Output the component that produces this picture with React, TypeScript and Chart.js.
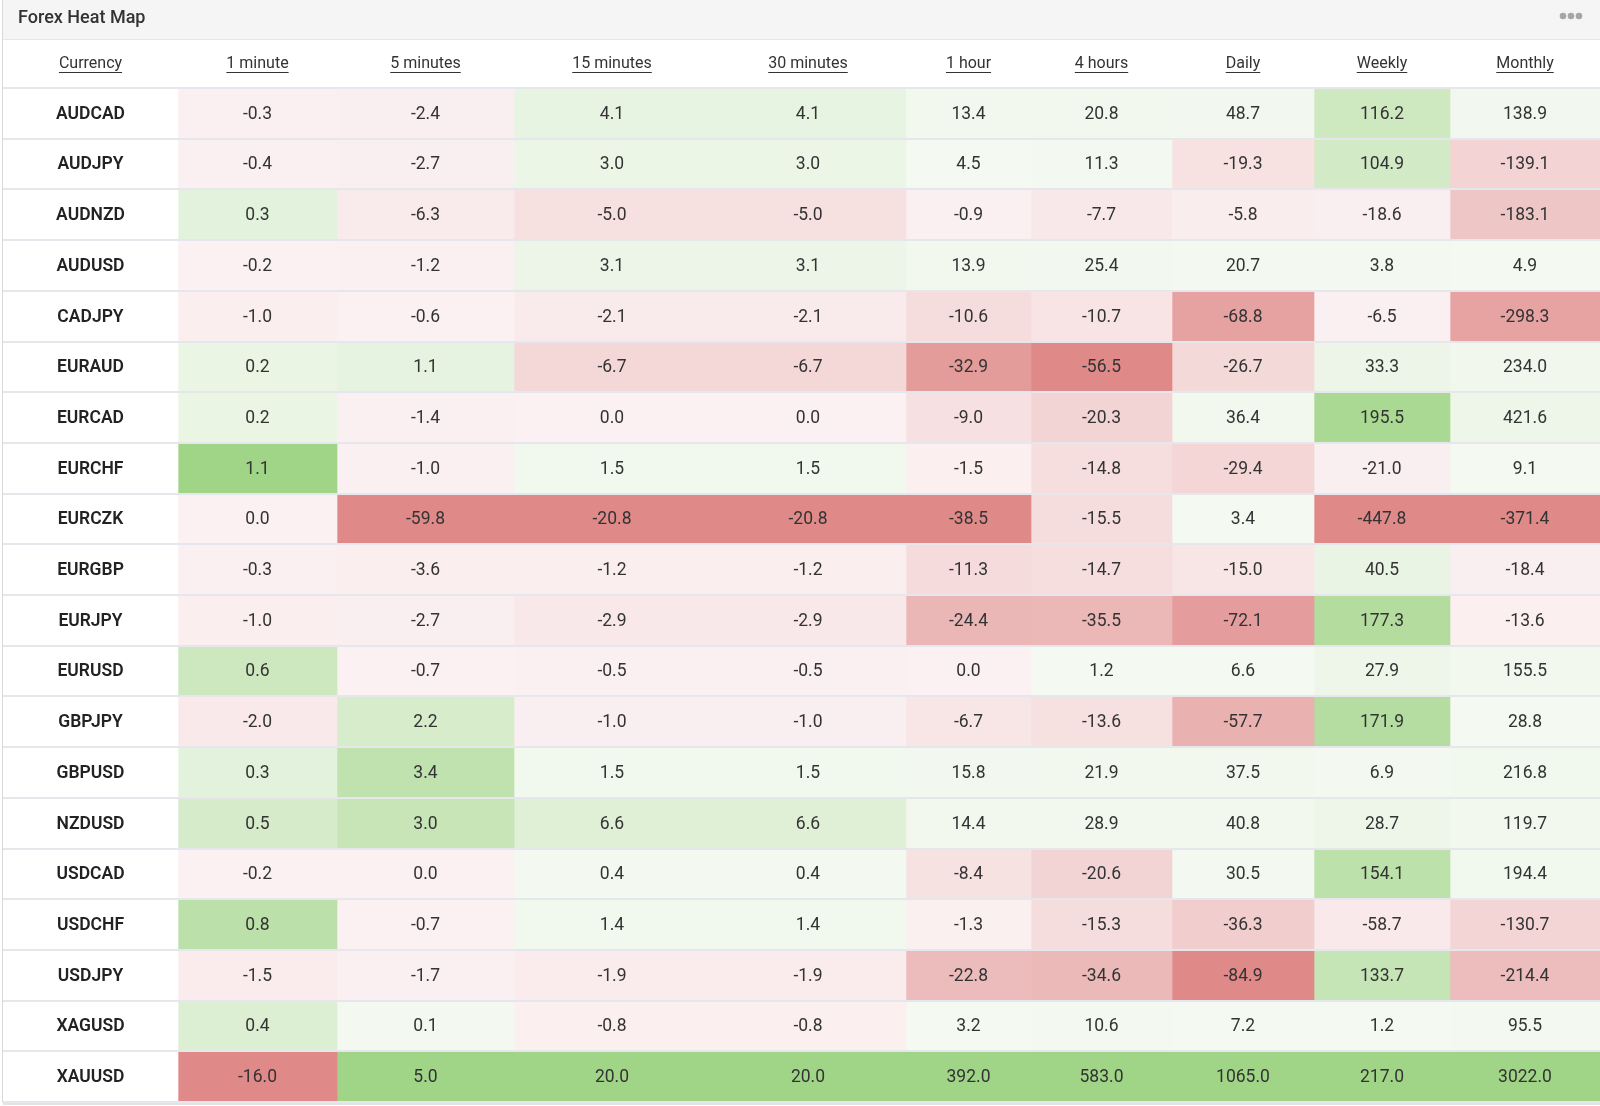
import React, { useEffect, useRef } from "react";
import { Chart, registerables } from "chart.js";

Chart.register(...registerables);

const TITLE = "Forex Heat Map";
const HEADERS = ["Currency", "1 minute", "5 minutes", "15 minutes", "30 minutes", "1 hour", "4 hours", "Daily", "Weekly", "Monthly"];
const CURRENCIES = ["AUDCAD", "AUDJPY", "AUDNZD", "AUDUSD", "CADJPY", "EURAUD", "EURCAD", "EURCHF", "EURCZK", "EURGBP", "EURJPY", "EURUSD", "GBPJPY", "GBPUSD", "NZDUSD", "USDCAD", "USDCHF", "USDJPY", "XAGUSD", "XAUUSD"];

const MIN1 = [-0.3, -0.4, 0.3, -0.2, -1.0, 0.2, 0.2, 1.1, 0.0, -0.3, -1.0, 0.6, -2.0, 0.3, 0.5, -0.2, 0.8, -1.5, 0.4, -16.0];
const MIN5 = [-2.4, -2.7, -6.3, -1.2, -0.6, 1.1, -1.4, -1.0, -59.8, -3.6, -2.7, -0.7, 2.2, 3.4, 3.0, 0.0, -0.7, -1.7, 0.1, 5.0];
const MIN15 = [4.1, 3.0, -5.0, 3.1, -2.1, -6.7, 0.0, 1.5, -20.8, -1.2, -2.9, -0.5, -1.0, 1.5, 6.6, 0.4, 1.4, -1.9, -0.8, 20.0];
const MIN30 = [4.1, 3.0, -5.0, 3.1, -2.1, -6.7, 0.0, 1.5, -20.8, -1.2, -2.9, -0.5, -1.0, 1.5, 6.6, 0.4, 1.4, -1.9, -0.8, 20.0];
const HOUR1 = [13.4, 4.5, -0.9, 13.9, -10.6, -32.9, -9.0, -1.5, -38.5, -11.3, -24.4, 0.0, -6.7, 15.8, 14.4, -8.4, -1.3, -22.8, 3.2, 392.0];
const HOUR4 = [20.8, 11.3, -7.7, 25.4, -10.7, -56.5, -20.3, -14.8, -15.5, -14.7, -35.5, 1.2, -13.6, 21.9, 28.9, -20.6, -15.3, -34.6, 10.6, 583.0];
const DAILY = [48.7, -19.3, -5.8, 20.7, -68.8, -26.7, 36.4, -29.4, 3.4, -15.0, -72.1, 6.6, -57.7, 37.5, 40.8, 30.5, -36.3, -84.9, 7.2, 1065.0];
const WEEKLY = [116.2, 104.9, -18.6, 3.8, -6.5, 33.3, 195.5, -21.0, -447.8, 40.5, 177.3, 27.9, 171.9, 6.9, 28.7, 154.1, -58.7, 133.7, 1.2, 217.0];
const MONTHLY = [138.9, -139.1, -183.1, 4.9, -298.3, 234.0, 421.6, 9.1, -371.4, -18.4, -13.6, 155.5, 28.8, 216.8, 119.7, 194.4, -130.7, -214.4, 95.5, 3022.0];

const SERIES = [MIN1, MIN5, MIN15, MIN30, HOUR1, HOUR4, DAILY, WEEKLY, MONTHLY];

// layout (column edges in pixels across the 1600px canvas)
const COLUMN_EDGES = [3, 178, 337, 514, 710, 906, 1031, 1172, 1314, 1450, 1600];

const PALE_GREEN = [244, 249, 241];
const DARK_GREEN = [160, 212, 134];
const PALE_RED = [251, 241, 242];
const DARK_RED = [223, 138, 136];
const COLOR_GAMMA = 1.25;
const FONT = "Roboto, 'Noto Sans', sans-serif";

function mix(a: number[], b: number[], t: number) {
  const k = Math.pow(Math.max(0, Math.min(1, t)), COLOR_GAMMA);
  const c = a.map((v, i) => Math.round(v + (b[i] - v) * k));
  return `rgb(${c[0]},${c[1]},${c[2]})`;
}

function cellColor(v: number, col: number[]) {
  const max = Math.max(...col);
  const min = Math.min(...col);
  if (v > 0) return mix(PALE_GREEN, DARK_GREEN, max > 0 ? v / max : 0);
  return mix(PALE_RED, DARK_RED, min < 0 ? v / min : 0);
}

const tablePlugin = {
  id: "heatTable",
  beforeDraw(chart: any) {
    const { ctx, width } = chart;
    ctx.save();
    ctx.fillStyle = "#ffffff";
    ctx.fillRect(0, 0, width, chart.height);
    ctx.fillStyle = "#f5f5f5";
    ctx.fillRect(3, 0, width - 3, 39);
    ctx.fillStyle = "#e8e8e8";
    ctx.fillRect(3, 39, width - 3, 1);
    ctx.fillStyle = "#333333";
    ctx.font = `500 18px ${FONT}`;
    ctx.textBaseline = "middle";
    ctx.textAlign = "left";
    ctx.fillText(TITLE, 18, 18);
    ctx.fillStyle = "#a6a6a6";
    [1563, 1571, 1579].forEach((x) => {
      ctx.beginPath();
      ctx.arc(x, 16, 3.3, 0, Math.PI * 2);
      ctx.fill();
    });
    ctx.restore();
  },
  afterDraw(chart: any) {
    const { ctx } = chart;
    const xScale = chart.scales.x;
    ctx.save();
    // headers
    ctx.font = `400 16px ${FONT}`;
    ctx.fillStyle = "#333333";
    ctx.textAlign = "center";
    ctx.textBaseline = "middle";
    HEADERS.forEach((h, i) => {
      const cx = xScale.getPixelForValue((COLUMN_EDGES[i] + COLUMN_EDGES[i + 1]) / 2);
      const y = 64;
      ctx.fillText(h, cx, y);
      const w = ctx.measureText(h).width;
      ctx.fillRect(cx - w / 2, y + 8, w, 1);
    });
    // cells
    chart.data.datasets.forEach((ds: any, di: number) => {
      const meta = chart.getDatasetMeta(di);
      meta.data.forEach((el: any, ri: number) => {
        const p = el.getCenterPoint();
        if (di === 0) {
          ctx.font = `600 17.5px ${FONT}`;
          ctx.fillStyle = "#222222";
          ctx.fillText(CURRENCIES[ri], p.x, p.y + 1);
        } else {
          ctx.font = `400 17.5px ${FONT}`;
          ctx.fillStyle = "#333333";
          ctx.fillText(SERIES[di - 1][ri].toFixed(1), p.x, p.y + 1);
        }
      });
    });
    // left border and bottom shadow
    ctx.fillStyle = "#ffffff";
    ctx.fillRect(0, 0, 2, chart.height);
    ctx.fillStyle = "#d9d9d9";
    ctx.fillRect(2, 0, 1, chart.chartArea.bottom);
    ctx.fillStyle = "#e3e3e3";
    ctx.fillRect(3, chart.chartArea.bottom + 1, chart.width, 2);
    ctx.restore();
  },
};

export default function App() {
  const ref = useRef<HTMLCanvasElement | null>(null);
  useEffect(() => {
    document.body.style.margin = "0";
    const canvas = ref.current;
    if (!canvas) return;
    const datasets: any[] = [];
    datasets.push({
      label: HEADERS[0],
      data: CURRENCIES.map(() => [COLUMN_EDGES[0], COLUMN_EDGES[1]]),
      backgroundColor: "#ffffff",
    });
    SERIES.forEach((col, ci) => {
      datasets.push({
        label: HEADERS[ci + 1],
        data: col.map(() => [COLUMN_EDGES[ci + 1], COLUMN_EDGES[ci + 2]]),
        backgroundColor: col.map((v) => cellColor(v, col)),
      });
    });
    const chart = new Chart(canvas, {
      type: "bar",
      data: { labels: CURRENCIES, datasets },
      options: {
        indexAxis: "y",
        responsive: false,
        animation: false,
        devicePixelRatio: 1,
        layout: { padding: { top: 88, bottom: 4, left: 0, right: 0 } },
        datasets: {
          bar: { grouped: false, barPercentage: 1, categoryPercentage: 1, borderWidth: 0 },
        } as any,
        plugins: { legend: { display: false }, tooltip: { enabled: false }, title: { display: false } },
        scales: {
          x: { type: "linear", min: 0, max: 1600, display: false },
          y: {
            type: "category",
            display: true,
            offset: true,
            ticks: { display: false },
            border: { display: false },
            grid: { color: "#e5e7ec", lineWidth: 2, drawTicks: false, offset: true, z: 1 },
            afterFit: (s: any) => {
              s.width = 0;
            },
          } as any,
        },
      } as any,
      plugins: [tablePlugin],
    });
    return () => chart.destroy();
  }, []);
  return (
    <div style={{ width: 1600, height: 1106 }}>
      <canvas ref={ref} width={1600} height={1106} style={{ display: "block" }} />
    </div>
  );
}
